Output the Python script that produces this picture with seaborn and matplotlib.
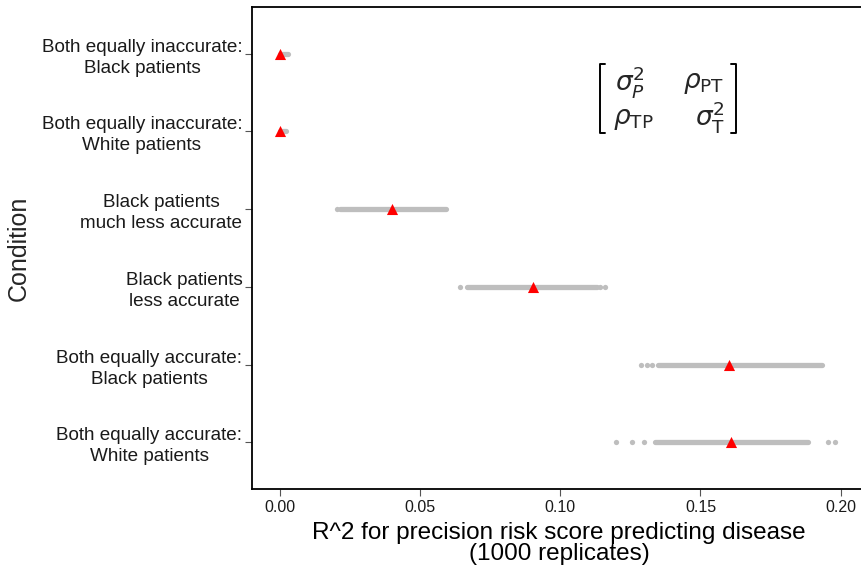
import numpy as np
import pandas as pd
import matplotlib
matplotlib.use("Agg")
import matplotlib.pyplot as plt
import seaborn as sns
from matplotlib.lines import Line2D

# ─── DATA ───────────────────────────────────────────────
conditions = [
    "Both equally inaccurate:\nBlack patients",
    "Both equally inaccurate:\nWhite patients",
    "Black patients\nmuch less accurate",
    "Black patients\nless accurate",
    "Both equally accurate:\nBlack patients",
    "Both equally accurate:\nWhite patients",
]

# mean R^2 per condition (red triangles)
mean_r2 = [0.0000, 0.0000, 0.0400, 0.0903, 0.1602, 0.1610]

# dense core of the 1000 replicates (min / max of the solid grey band)
dense_lo = [0.0000, 0.0000, 0.0215, 0.0667, 0.1349, 0.1338]
dense_hi = [0.0030, 0.0022, 0.0592, 0.1131, 0.1932, 0.1885]

# isolated replicates visible outside the band
outlier_cond = [2, 3, 3, 3, 4, 4, 4, 5, 5, 5, 5, 5]
outlier_r2 = [0.0203, 0.0642, 0.1141, 0.1160,
              0.1287, 0.1308, 0.1326,
              0.1198, 0.1256, 0.1297, 0.1954, 0.1980]

# ─── STYLE ──────────────────────────────────────────────
sns.set_theme(style="white")
plt.rcParams["font.family"] = ["Liberation Sans", "DejaVu Sans"]
plt.rcParams["mathtext.fontset"] = "dejavusans"

GREY = "#BEBEBE"
RED = "#FF0000"

fig = plt.figure(figsize=(8.61, 5.70), dpi=100)
ax = fig.add_axes([252 / 861, 1 - 489 / 570, (866 - 252) / 861, (489 - 7) / 570])

# ─── DRAW ───────────────────────────────────────────────
pts = pd.DataFrame({
    "r2": outlier_r2,
    "condition": [conditions[i] for i in outlier_cond],
})
means = pd.DataFrame({"r2": mean_r2, "condition": conditions})

sns.stripplot(data=pts, x="r2", y="condition", order=conditions,
              jitter=False, color=GREY, size=3.8, linewidth=0, ax=ax, zorder=2)
ax.hlines(range(len(conditions)), dense_lo, dense_hi, colors=GREY,
          linewidth=3.8, capstyle="round", zorder=2)
sns.stripplot(data=means, x="r2", y="condition", order=conditions,
              jitter=False, color=RED, marker="^", size=8, linewidth=0,
              ax=ax, zorder=3)

# ─── AXES ───────────────────────────────────────────────
x0_px, px_per_unit = 280.0, 2803.0
ax.set_xlim((252 - x0_px) / px_per_unit, (866 - x0_px) / px_per_unit)
ax.set_ylim(5.6, -0.6)
ax.set_xticks([0.00, 0.05, 0.10, 0.15, 0.20])
ax.set_xticklabels(["0.00", "0.05", "0.10", "0.15", "0.20"])
ax.set_yticks(range(len(conditions)))
ax.set_yticklabels(conditions, multialignment="center", linespacing=1.3)

ax.tick_params(axis="both", which="major", length=5, width=0.8,
               color="#555555", labelcolor="#1a1a1a",
               direction="out", left=True, bottom=True)
ax.tick_params(axis="x", labelsize=11.5, pad=3)
ax.tick_params(axis="y", labelsize=13.6, pad=2)

for side in ["left", "right", "top", "bottom"]:
    ax.spines[side].set_visible(True)
    ax.spines[side].set_color("black")
    ax.spines[side].set_linewidth(1.3)

ax.set_xlabel("R^2 for precision risk score predicting disease\n(1000 replicates)",
              fontsize=17.5, color="black", labelpad=5, linespacing=0.95)
ax.set_ylabel("")
fig.text(19 / 861, 1 - 248 / 570, "Condition", rotation=90, fontsize=18,
         ha="center", va="center")

# ─── COVARIANCE MATRIX NOTE ─────────────────────────────
def px(x, y):
    return x / 861, 1 - y / 570

for (x, y), s in [((630, 82), r"$\sigma^2_P$"), ((704, 84), r"$\rho_{\mathrm{PT}}$"),
                  ((633, 119), r"$\rho_{\mathrm{TP}}$"), ((710, 117), r"$\sigma^2_{\mathrm{T}}$")]:
    fx, fy = px(x, y)
    fig.text(fx, fy, s, fontsize=19, ha="center", va="center")

for xs, ys in [((605, 600, 600, 605), (64, 64, 133, 133)),
               ((731, 736, 736, 731), (64, 64, 133, 133))]:
    fx = [x / 861 for x in xs]
    fy = [1 - y / 570 for y in ys]
    fig.add_artist(Line2D(fx, fy, color="black", linewidth=1.4,
                          transform=fig.transFigure))

fig.savefig("out.png", dpi=100)
